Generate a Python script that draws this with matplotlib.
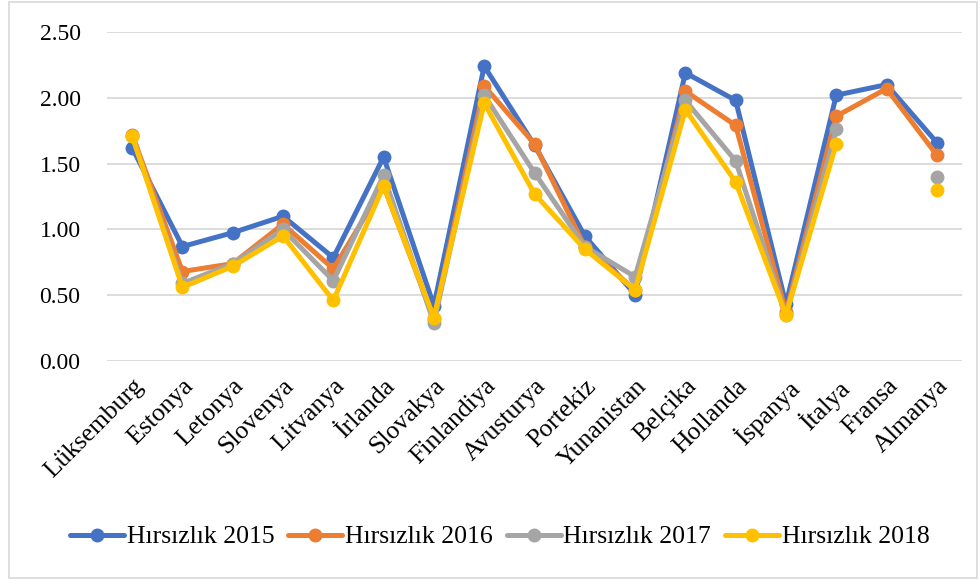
import numpy as np
import matplotlib.pyplot as plt
from matplotlib.patches import Rectangle

plt.rcParams['font.family'] = ['Liberation Serif', 'DejaVu Serif']

countries = ["Lüksemburg", "Estonya", "Letonya", "Slovenya", "Litvanya", "İrlanda",
             "Slovakya", "Finlandiya", "Avusturya", "Portekiz", "Yunanistan", "Belçika",
             "Hollanda", "İspanya", "İtalya", "Fransa", "Almanya"]

hirsizlik_2015 = [1.62, 0.87, 0.975, 1.10, 0.785, 1.55, 0.42, 2.24, 1.64, 0.95, 0.505,
                  2.19, 1.98, 0.43, 2.02, 2.10, 1.66]
hirsizlik_2016 = [1.72, 0.68, 0.74, 1.04, 0.70, 1.33, 0.32, 2.09, 1.65, 0.87, 0.54,
                  2.05, 1.79, 0.37, 1.86, 2.07, 1.565]
hirsizlik_2017 = [1.71, 0.59, 0.74, 1.00, 0.61, 1.41, 0.29, 2.02, 1.43, 0.87, 0.64,
                  1.98, 1.52, 0.35, 1.76, np.nan, 1.40]
hirsizlik_2018 = [1.71, 0.56, 0.72, 0.95, 0.46, 1.33, 0.33, 1.96, 1.27, 0.85, 0.54,
                  1.91, 1.36, 0.35, 1.65, np.nan, 1.30]

series = [
    ("Hırsızlık 2015", hirsizlik_2015, "#4472C4"),
    ("Hırsızlık 2016", hirsizlik_2016, "#ED7D31"),
    ("Hırsızlık 2017", hirsizlik_2017, "#A5A5A5"),
    ("Hırsızlık 2018", hirsizlik_2018, "#FFC000"),
]

fig = plt.figure(figsize=(9.8, 5.8), dpi=100)
ax = fig.add_axes([107 / 980, 1 - 361 / 580, 855 / 980, 329 / 580])

x = np.arange(len(countries))
for name, vals, col in series:
    ax.plot(x, vals, color=col, lw=3.6, marker='o', ms=9, label=name,
            solid_capstyle='round', solid_joinstyle='round')

ax.set_xlim(-0.5, len(countries) - 0.5)
ax.set_ylim(0, 2.5)
ax.set_yticks(np.arange(0, 2.51, 0.5))
ax.set_yticklabels([f"{v:.2f}" for v in np.arange(0, 2.51, 0.5)], fontsize=17)
ax.set_xticks(x)
ax.set_xticklabels(countries, rotation=45, ha='right', va='top',
                   rotation_mode='anchor', fontsize=18.5)
ax.tick_params(length=0)
ax.tick_params(axis='y', pad=19)
ax.tick_params(axis='x', pad=10)
ax.grid(axis='y', color='#d9d9d9', lw=1.3)
ax.set_axisbelow(True)
for s in ax.spines.values():
    s.set_visible(False)

fig.legend(loc='center', bbox_to_anchor=(0.51, 1 - 537 / 580), ncol=4,
           frameon=False, fontsize=18.5, handlelength=2.1, handletextpad=0.1,
           columnspacing=0.55)

fig.patches.append(Rectangle((9 / 980, 2 / 580), 968 / 980, 576 / 580,
                             transform=fig.transFigure, fill=False,
                             edgecolor='#d9d9d9', lw=1.2))

fig.savefig("out.png", dpi=100, facecolor='white')
